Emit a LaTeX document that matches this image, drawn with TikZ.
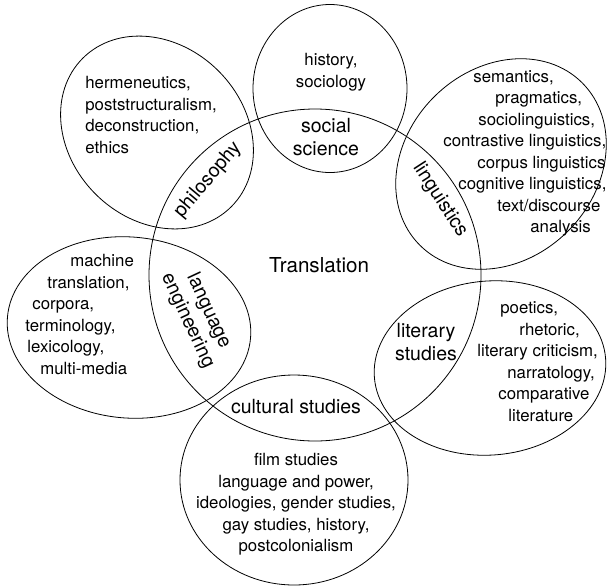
\documentclass[tikz,border=0pt]{standalone}
\usepackage{fontspec}
\setmainfont{TeX Gyre Heros}
\tikzset{
  field/.style={inner sep=0pt, font=\fontsize{16.8}{21.5}\selectfont},
  topic/.style={inner sep=0pt, font=\fontsize{19.5}{23}\selectfont},
}
\begin{document}
\begin{tikzpicture}[x=1pt,y=1pt,yscale=-1,xscale=1,line width=0.8pt]
\useasboundingbox (0,0) rectangle (607,587);

%Circle translation
\draw (315,275) circle [radius=166];
%Ellipse philosophy
\draw [rotate around={45:(157,132.5)}] (157,132.5) ellipse [x radius=105, y radius=87];
%Ellipse social science
\draw (330,88.5) ellipse [x radius=77, y radius=84];
%Ellipse linguistics
\draw [rotate around={-45:(501,164)}] (501,164) ellipse [x radius=114.8, y radius=94.8];
%Ellipse literary studies
\draw [rotate around={-5:(490,368)}] (490,368) ellipse [x radius=116, y radius=87];
%Ellipse cultural studies
\draw (294,480) ellipse [x radius=114, y radius=105];
%Ellipse language engineering
\draw [rotate around={5:(129,327.5)}] (129,327.5) ellipse [x radius=122, y radius=90.5];

\node [topic, anchor=base, font=\fontsize{20.6}{24}\selectfont] (translation) at (319,272) {Translation};

\node [field, anchor=north west, align=left] (philtext) at (85,76) {hermeneutics,\\poststructuralism,\\deconstruction,\\ethics};
\node [topic, rotate=50] (philosophy) at (208,180) {philosophy};

\node [field, anchor=north, align=center] (soctext) at (331,53) {history,\\sociology};
\node [topic, anchor=north, align=center] (social) at (326,118) {social\\science};

\node [field, anchor=north west, align=left] (lingtext) at (443,70) {\hspace*{30pt}semantics,\\\hspace*{52pt}pragmatics,\\\hspace*{35pt}sociolinguistics,\\contrastive linguistics,\\\hspace*{34pt}corpus linguistics\\\hspace*{15pt}cognitive linguistics,\\\hspace*{54pt}text/discourse\\\hspace*{87pt}analysis};
\node [topic, rotate=-57] (linguistics) at (440,200) {linguistics};

\node [field, anchor=north west, align=left] (littext) at (477,301.5) {\hspace*{23pt}poetics,\\\hspace*{42pt}rhetoric,\\literary criticism,\\\hspace*{30pt}narratology,\\\hspace*{21pt}comparative\\\hspace*{31pt}literature};
\node [topic, anchor=north, align=center] (literary) at (426,323) {literary\\studies};

\node [field, anchor=north, align=center] (culttext) at (296,453) {film studies\\language and power,\\ideologies, gender studies,\\gay studies, history,\\postcolonialism};
\node [topic, anchor=base] (cultural) at (296,413) {cultural studies};

\node [field, anchor=north west, align=left] (langtext) at (25,254) {\hspace*{45pt}machine\\\hspace*{22pt}translation,\\\hspace*{7pt}corpora,\\terminology,\\\hspace*{2pt}lexicology,\\\hspace*{15pt}multi-media};
\node [topic, rotate=-65, align=center] (langeng) at (198,316) {language\\engineering};

\end{tikzpicture}
\end{document}
